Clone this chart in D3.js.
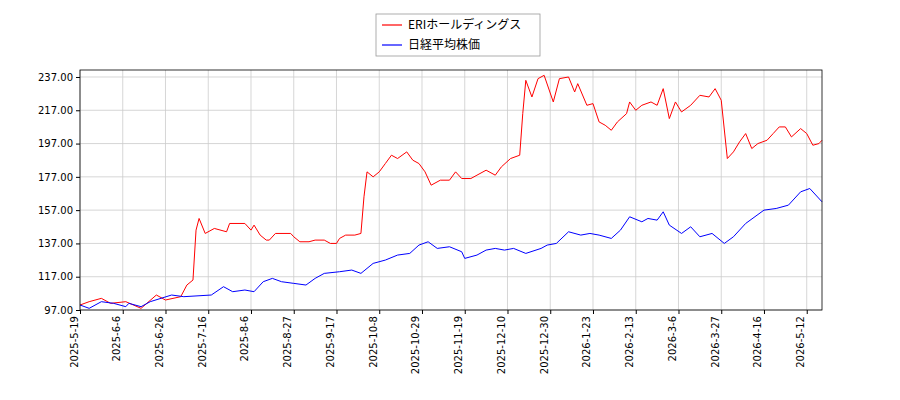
<!DOCTYPE html>
<html><head><meta charset="utf-8">
<script src="https://cdn.jsdelivr.net/npm/d3@7"></script>
<style>body{margin:0;background:#fff}</style></head>
<body><svg id="c" width="900" height="400"></svg>
<script>
const tickLabels=["2025-5-19","2025-6-6","2025-6-26","2025-7-16","2025-8-6","2025-8-27","2025-9-17","2025-10-8","2025-10-29","2025-11-19","2025-12-10","2025-12-30","2026-1-23","2026-2-13","2026-3-6","2026-3-27","2026-4-16","2026-5-12"];
const tickDays=tickLabels.map((d,i)=>i*14);
const yTicks=[97,117,137,157,177,197,217,237];
const eriDays=[0,3,7,10,15,20,25,28,33,35,37,38,39,41,44,48,49,54,56,57,59,61,62,64,69,70,72,75,77,80,82,84,85,87,90,92,93,94,96,98,100,102,104,107,109,111,113,115,118,121,123,125,128,130,133,136,138,141,144,145,146,148,150,152,155,157,160,162,163,166,168,170,172,174,176,179,180,182,184,187,189,191,193,195,197,200,203,206,208,210,212,214,216,218,220,222,225,227,229,231,233,236,238,240,242,243];
const eriValues=[100,102,104,101,102,98,106,103,105,112,115,145,152,143,146,144,149,149,145,148,142,139,139,143,143,141,138,138,139,139,137,137,140,142,142,143,165,180,177,180,185,190,188,192,187,185,180,172,175,175,180,176,176,178,181,178,183,188,190,215,235,225,236,238,222,236,237,228,233,220,221,210,208,205,210,215,222,217,220,222,220,230,212,222,216,220,226,225,230,223,188,192,198,203,194,197,199,203,207,207,201,206,203,196,197,199];
const nkDays=[0,3,7,11,15,16,20,23,30,34,43,47,50,54,57,60,63,66,70,74,77,80,85,89,92,96,100,104,108,111,114,117,121,125,126,130,133,136,139,142,146,151,153,156,160,164,167,170,174,177,180,184,186,189,191,193,197,200,203,207,211,214,218,224,228,232,236,239,243];
const nkValues=[100,98,102,101,99,101,99,102,106,105,106,111,108,109,108,114,116,114,113,112,116,119,120,121,119,125,127,130,131,136,138,134,135,132,128,130,133,134,133,134,131,134,136,137,144,142,143,142,140,145,153,150,152,151,156,148,143,147,141,143,137,141,149,157,158,160,168,170,162];
const seriesNames=["ERIホールディングス","日経平均株価"];
const colors=["#ff0000","#0000ff"];

const svg=d3.select("#c");
const L=80,R=822,T=70,B=310;
const x=d3.scaleLinear().domain([0,243]).range([L,R]);
const y=d3.scaleLinear().domain([97,241.2]).range([B,T]);
const font="DejaVu Sans";
const g=svg.append("g");
// grid
g.selectAll(".gx").data(tickDays).join("line").attr("x1",d=>x(d)).attr("x2",d=>x(d)).attr("y1",T).attr("y2",B).attr("stroke","#cccccc").attr("stroke-width",0.8);
g.selectAll(".gy").data(yTicks).join("line").attr("x1",L).attr("x2",R).attr("y1",d=>y(d)).attr("y2",d=>y(d)).attr("stroke","#cccccc").attr("stroke-width",0.8);
// lines
const line=d3.line().x(d=>x(d[0])).y(d=>y(d[1]));
svg.append("path").datum(eriDays.map((d,i)=>[d,eriValues[i]])).attr("d",line).attr("fill","none").attr("stroke",colors[0]).attr("stroke-width",1);
svg.append("path").datum(nkDays.map((d,i)=>[d,nkValues[i]])).attr("d",line).attr("fill","none").attr("stroke",colors[1]).attr("stroke-width",1);
// frame
svg.append("rect").attr("x",L).attr("y",T).attr("width",R-L).attr("height",B-T).attr("fill","none").attr("stroke","#000").attr("stroke-width",0.8);
// axes
const ya=svg.append("g").attr("transform",`translate(${L},0)`).call(d3.axisLeft(y).tickValues(yTicks).tickFormat(d3.format(".2f")).tickSize(4).tickSizeOuter(0));
ya.select(".domain").remove();
ya.selectAll("text").attr("font-family",font).attr("font-size",10).attr("fill","#000");
const xa=svg.append("g").attr("transform",`translate(0,${B})`).call(d3.axisBottom(x).tickValues(tickDays).tickFormat((d,i)=>tickLabels[i]).tickSize(4).tickSizeOuter(0));
xa.select(".domain").remove();
xa.selectAll("text").attr("font-family",font).attr("font-size",10).attr("fill","#000")
 .attr("transform","rotate(-90)").attr("text-anchor","end").attr("dx","-6").attr("dy","-0.3em").attr("x",0).attr("y",0);
// legend
const lg=svg.append("g");
lg.append("rect").attr("x",376).attr("y",14).attr("width",164).attr("height",42).attr("fill","#fff").attr("stroke","#999").attr("stroke-width",0.8);
seriesNames.forEach((n,i)=>{
 lg.append("line").attr("x1",382).attr("x2",402).attr("y1",25+i*20).attr("y2",25+i*20).attr("stroke",colors[i]).attr("stroke-width",1.2);
 lg.append("text").attr("x",408).attr("y",29+i*20).text(n).attr("font-family","Noto Sans CJK JP").attr("font-size",12);
});
</script></body></html>
